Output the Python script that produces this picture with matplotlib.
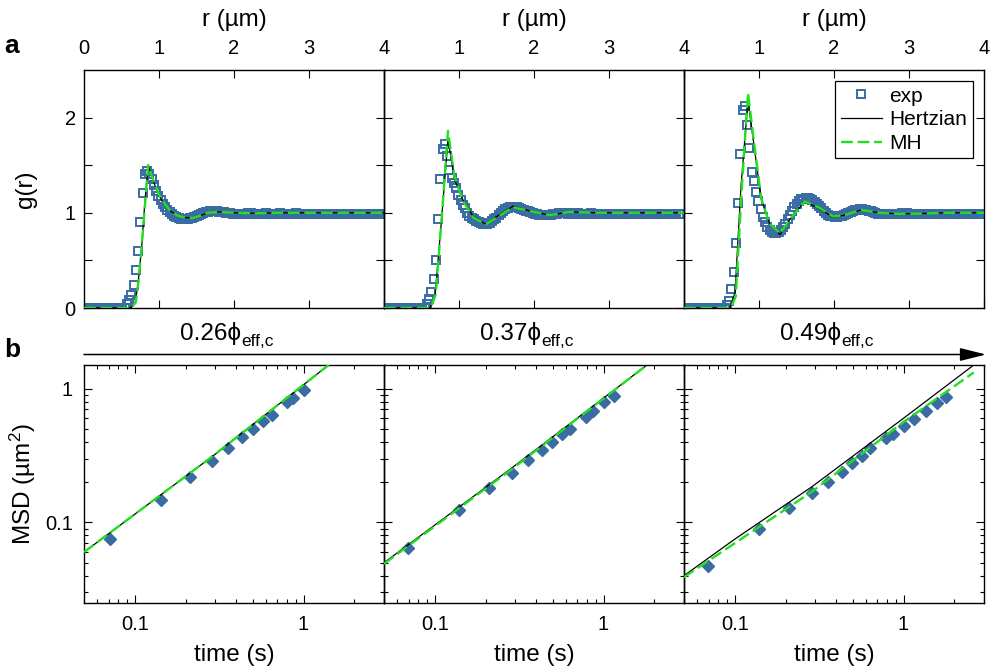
import numpy as np
import matplotlib
matplotlib.use("Agg")
import matplotlib.pyplot as plt
from matplotlib.ticker import NullFormatter, LogLocator
from matplotlib.patches import FancyArrowPatch

plt.rcParams['font.family'] = ['Liberation Sans', 'DejaVu Sans']
plt.rcParams['mathtext.fontset'] = 'custom'
plt.rcParams['mathtext.rm'] = 'Liberation Sans'
plt.rcParams['mathtext.it'] = 'Liberation Sans:italic'

# ---------------- data ----------------
phi_labels = ['0.26', '0.37', '0.49']

# g(r) experiment, bins of 0.03 um starting at r = 0
dr = 0.03
g_exp_1 = [
    0, 0, 0, 0, 0, 0, 0, 0, 0, 0,
    0, 0, 0, 0, 0, 0, 0, 0, 0, 0.04,
    0.08, 0.14, 0.24, 0.40, 0.60, 0.90, 1.21, 1.41, 1.44, 1.41,
    1.35, 1.29, 1.23, 1.18, 1.13, 1.09, 1.06, 1.03, 1.01, 0.99,
    0.97, 0.96, 0.95, 0.94, 0.94, 0.94, 0.94, 0.95, 0.95, 0.96,
    0.97, 0.98, 0.99, 1.00, 1.01, 1.01, 1.02, 1.02, 1.02, 1.02,
    1.01, 1.01, 1.01, 1.00, 1.00, 1.00, 0.99, 0.99, 0.99, 0.99,
    0.99, 0.99, 0.99, 1.00, 1.00, 0.99, 0.99, 0.99, 0.99, 0.99,
    0.99, 1.00, 0.99, 0.99, 0.99, 0.99, 0.99, 1.00, 0.99, 0.99,
    0.99, 0.99, 0.99, 0.99, 1.00, 0.99, 0.99, 0.99, 0.99, 0.99,
    0.99, 0.99, 0.99, 0.99, 0.99, 0.99, 0.99, 0.99, 0.99, 0.99,
    0.99, 0.99, 0.99, 0.99, 0.99, 0.99, 0.99, 0.99, 0.99, 0.99,
    0.99, 0.99, 0.99, 0.99, 0.99, 0.99, 0.99, 0.99, 0.99, 0.99,
    0.99, 0.99, 0.99, 0.99,
]
g_exp_2 = [
    0, 0, 0, 0, 0, 0, 0, 0, 0, 0,
    0, 0, 0, 0, 0, 0, 0, 0, 0, 0.04,
    0.09, 0.17, 0.30, 0.50, 0.93, 1.36, 1.67, 1.72, 1.60, 1.45,
    1.37, 1.31, 1.26, 1.19, 1.13, 1.08, 1.05, 1.00, 0.97, 0.95,
    0.93, 0.91, 0.90, 0.89, 0.88, 0.88, 0.88, 0.89, 0.91, 0.93,
    0.95, 0.98, 1.00, 1.02, 1.04, 1.05, 1.06, 1.06, 1.06, 1.06,
    1.05, 1.04, 1.03, 1.02, 1.02, 1.01, 1.00, 0.99, 0.99, 0.98,
    0.98, 0.98, 0.98, 0.98, 0.98, 0.99, 0.99, 0.99, 1.00, 1.00,
    1.00, 1.00, 0.99, 0.99, 0.99, 1.00, 1.00, 0.99, 0.99, 0.99,
    0.99, 0.99, 1.00, 0.99, 0.99, 0.99, 0.99, 0.99, 0.99, 0.99,
    0.99, 0.99, 0.99, 0.99, 0.99, 0.99, 0.99, 0.99, 0.99, 0.99,
    0.99, 0.99, 0.99, 0.99, 0.99, 0.99, 0.99, 0.99, 0.99, 0.99,
    0.99, 0.99, 0.99, 0.99, 0.99, 0.99, 0.99, 0.99, 0.99, 0.99,
    0.99, 0.99, 0.99, 0.99,
]
g_exp_3 = [
    0, 0, 0, 0, 0, 0, 0, 0, 0, 0,
    0, 0, 0, 0, 0, 0, 0, 0, 0, 0.03,
    0.07, 0.20, 0.38, 0.68, 1.10, 1.62, 2.08, 2.12, 1.92, 1.68,
    1.43, 1.33, 1.22, 1.12, 1.04, 0.96, 0.90, 0.85, 0.82, 0.80,
    0.79, 0.79, 0.80, 0.82, 0.85, 0.88, 0.93, 0.98, 1.02, 1.06,
    1.09, 1.12, 1.14, 1.15, 1.16, 1.16, 1.15, 1.13, 1.11, 1.09,
    1.07, 1.05, 1.02, 1.00, 0.98, 0.97, 0.965, 0.96, 0.96, 0.965,
    0.97, 0.98, 0.99, 1.00, 1.01, 1.02, 1.03, 1.03, 1.035, 1.035,
    1.03, 1.03, 1.02, 1.02, 1.01, 1.00, 0.99, 0.99, 0.985, 0.985,
    0.985, 0.985, 0.99, 0.99, 0.99, 0.99, 0.99, 1.00, 1.00, 1.00,
    0.99, 0.99, 0.99, 0.99, 0.99, 0.99, 0.99, 0.99, 0.99, 0.99,
    0.99, 0.99, 0.99, 0.99, 0.99, 0.99, 0.99, 0.99, 0.99, 0.99,
    0.99, 0.99, 0.99, 0.99, 0.99, 0.99, 0.99, 0.99, 0.99, 0.99,
    0.99, 0.99, 0.99, 0.99,
]

# g(r) fits
r_hz_1 = [0, 0.62, 0.68, 0.72, 0.77, 0.81, 0.855, 0.92, 1.0, 1.06, 1.15, 1.25,
          1.35, 1.45, 1.55, 1.65, 1.8, 2.0, 2.3, 2.6, 3.0, 4.0]
g_hz_1 = [0, 0, 0.05, 0.25, 0.65, 1.10, 1.50, 1.34, 1.18, 1.10, 1.02, 0.97,
          0.95, 0.945, 0.97, 1.0, 1.01, 1.0, 0.995, 1.0, 1.0, 1.0]
r_mh_1 = [0, 0.63, 0.69, 0.73, 0.78, 0.82, 0.855, 0.92, 1.0, 1.07, 1.15, 1.25,
          1.35, 1.45, 1.55, 1.65, 1.8, 2.0, 2.3, 2.6, 3.0, 4.0]
g_mh_1 = [0, 0, 0.06, 0.30, 0.75, 1.15, 1.50, 1.35, 1.19, 1.10, 1.02, 0.97,
          0.95, 0.945, 0.97, 1.0, 1.01, 1.0, 0.995, 1.0, 1.0, 1.0]

r_hz_2 = [0, 0.61, 0.68, 0.76, 0.853, 0.94, 1.05, 1.19, 1.36, 1.50, 1.72,
          1.94, 2.21, 2.48, 2.83, 3.2, 4.0]
g_hz_2 = [0, 0, 0.12, 0.86, 1.77, 1.35, 1.14, 0.96, 0.88, 0.96, 1.07,
          1.02, 0.975, 1.01, 1.0, 1.0, 1.0]
r_mh_2 = [0, 0.62, 0.69, 0.77, 0.853, 0.94, 1.05, 1.19, 1.36, 1.50, 1.72,
          1.94, 2.21, 2.48, 2.83, 3.2, 4.0]
g_mh_2 = [0, 0, 0.14, 0.95, 1.86, 1.38, 1.13, 0.95, 0.88, 0.95, 1.06,
          1.02, 0.975, 1.01, 1.0, 1.0, 1.0]

r_hz_3 = [0, 0.61, 0.68, 0.76, 0.853, 0.94, 1.03, 1.14, 1.28, 1.41, 1.61,
          1.81, 1.99, 2.16, 2.36, 2.61, 2.83, 3.05, 3.5, 4.0]
g_hz_3 = [0, 0, 0.16, 1.28, 2.18, 1.67, 1.14, 0.89, 0.77, 0.93, 1.12,
          1.04, 0.95, 0.98, 1.03, 1.0, 0.99, 0.99, 1.0, 1.0]
r_mh_3 = [0, 0.62, 0.69, 0.77, 0.853, 0.94, 1.03, 1.14, 1.28, 1.41, 1.61,
          1.81, 1.99, 2.16, 2.36, 2.61, 2.83, 3.05, 3.5, 4.0]
g_mh_3 = [0, 0, 0.12, 1.25, 2.26, 1.70, 1.15, 0.89, 0.78, 0.93, 1.12,
          1.05, 0.96, 0.98, 1.03, 1.0, 0.99, 0.99, 1.0, 1.0]

# MSD experiment
t_exp_1 = [0.071, 0.143, 0.212, 0.287, 0.357, 0.434, 0.504, 0.578, 0.654, 0.794, 0.87, 1.0]
msd_exp_1 = [0.075, 0.146, 0.219, 0.289, 0.357, 0.431, 0.503, 0.573, 0.639, 0.793, 0.853, 0.98]
t_exp_2 = [0.069, 0.14, 0.211, 0.285, 0.359, 0.43, 0.497, 0.568, 0.637, 0.783, 0.866, 1.01, 1.16]
msd_exp_2 = [0.0645, 0.123, 0.182, 0.236, 0.293, 0.347, 0.40, 0.454, 0.502, 0.613, 0.679, 0.792, 0.887]
t_exp_3 = [0.069, 0.14, 0.211, 0.285, 0.355, 0.43, 0.497, 0.568, 0.637, 0.79, 0.866,
           1.01, 1.16, 1.36, 1.58, 1.79]
msd_exp_3 = [0.0474, 0.0887, 0.1286, 0.166, 0.202, 0.24, 0.277, 0.313, 0.357, 0.424, 0.454,
             0.523, 0.589, 0.679, 0.778, 0.863]

# MSD fits
t_hz_fit_1 = [0.05, 0.287, 1.41]
msd_hz_fit_1 = [0.06, 0.31, 1.5]
t_mh_fit_1 = [0.05, 0.287, 1.41]
msd_mh_fit_1 = [0.06, 0.31, 1.5]
t_hz_fit_2 = [0.05, 0.28, 1.81]
msd_hz_fit_2 = [0.05, 0.25, 1.5]
t_mh_fit_2 = [0.05, 0.28, 1.81]
msd_mh_fit_2 = [0.049, 0.245, 1.5]
t_hz_fit_3 = [0.05, 0.1, 0.287, 1.0, 2.61]
msd_hz_fit_3 = [0.040, 0.075, 0.185, 0.60, 1.5]
t_mh_fit_3 = [0.05, 0.287, 1.0, 2.61]
msd_mh_fit_3 = [0.039, 0.17, 0.562, 1.32]

g_exp = [g_exp_1, g_exp_2, g_exp_3]
r_hz = [r_hz_1, r_hz_2, r_hz_3]
g_hz = [g_hz_1, g_hz_2, g_hz_3]
r_mh = [r_mh_1, r_mh_2, r_mh_3]
g_mh = [g_mh_1, g_mh_2, g_mh_3]
t_exp = [t_exp_1, t_exp_2, t_exp_3]
msd_exp = [msd_exp_1, msd_exp_2, msd_exp_3]
t_hz_fit = [t_hz_fit_1, t_hz_fit_2, t_hz_fit_3]
msd_hz_fit = [msd_hz_fit_1, msd_hz_fit_2, msd_hz_fit_3]
t_mh_fit = [t_mh_fit_1, t_mh_fit_2, t_mh_fit_3]
msd_mh_fit = [msd_mh_fit_1, msd_mh_fit_2, msd_mh_fit_3]

blue = '#3a6ba3'
green = '#22e01e'
label_size = 17.5
tick_size = 14.5

# ---------------- figure ----------------
W, H = 1000, 667
fig = plt.figure(figsize=(10, 6.67), dpi=100)


def box(x0, y0, x1, y1):
    return [x0 / W, 1 - y1 / H, (x1 - x0) / W, (y1 - y0) / H]


top_axes = [fig.add_axes(box(84 + 300 * k, 70, 384 + 300 * k, 308)) for k in range(3)]
bot_axes = [fig.add_axes(box(84 + 300 * k, 365, 384 + 300 * k, 603)) for k in range(3)]

for k, ax in enumerate(top_axes):
    ax.patch.set_alpha(0)
    r = np.round(np.arange(len(g_exp[k])) * dr, 2)
    ax.plot(r, g_exp[k], ls='none', marker='s', ms=5.2, mfc='none', mec=blue,
            mew=1.4, label='exp', zorder=2)
    ax.plot(r_hz[k], g_hz[k], color='k', lw=0.9, label='Hertzian', zorder=3)
    ax.plot(r_mh[k], g_mh[k], color=green, lw=1.7, dashes=(5, 2), label='MH', zorder=4)
    ax.set_xlim(0, 4)
    ax.set_ylim(0, 2.5)
    ax.xaxis.set_label_position('top')
    ax.set_xlabel('r (µm)', fontsize=label_size, labelpad=9)
    ax.set_xticks([0, 1, 2, 3, 4])
    ax.set_xticklabels(['0', '1', '2', '3', '4'] if k == 0 else ['', '1', '2', '3', '4'])
    ax.set_yticks([0, 0.5, 1, 1.5, 2])
    ax.set_yticklabels(['0', '', '1', '', '2'] if k == 0 else [''] * 5)
    ax.tick_params(axis='x', direction='in', length=5.8, width=0.8, top=True, bottom=True,
                   labeltop=True, labelbottom=False, labelsize=tick_size, pad=9)
    ax.tick_params(axis='y', direction='in', length=5.8, width=0.8, left=True, right=True,
                   labelsize=tick_size, pad=6)
    for s in ax.spines.values():
        s.set_linewidth(1.0)

top_axes[0].set_ylabel('g(r)', fontsize=label_size)
top_axes[0].yaxis.set_label_coords(-0.155, 0.5)

top_axes[2].legend(loc='upper right', fontsize=15, numpoints=1, frameon=True,
                   fancybox=False, edgecolor='k', framealpha=1, borderpad=0.25,
                   labelspacing=0.22, handlelength=2.0, handletextpad=0.35,
                   borderaxespad=0.55).get_frame().set_linewidth(0.9)

for k, ax in enumerate(bot_axes):
    ax.patch.set_alpha(0)
    ax.set_xscale('log')
    ax.set_yscale('log')
    ax.plot(t_exp[k], msd_exp[k], ls='none', marker='D', ms=6.3, color=blue, zorder=2)
    ax.plot(t_hz_fit[k], msd_hz_fit[k], color='k', lw=0.9, zorder=3)
    ax.plot(t_mh_fit[k], msd_mh_fit[k], color=green, lw=1.7, dashes=(5, 2), zorder=4)
    ax.set_xlim(0.05, 3)
    ax.set_ylim(0.025, 1.5)
    ax.set_xticks([0.1, 1])
    ax.set_xticklabels(['0.1', '1'])
    ax.set_yticks([0.1, 1])
    ax.set_yticklabels(['0.1', '1'] if k == 0 else ['', ''])
    ax.xaxis.set_minor_locator(LogLocator(base=10, subs=np.arange(2, 10)))
    ax.yaxis.set_minor_locator(LogLocator(base=10, subs=np.arange(2, 10)))
    ax.xaxis.set_minor_formatter(NullFormatter())
    ax.yaxis.set_minor_formatter(NullFormatter())
    ax.tick_params(which='major', direction='in', length=5.8, width=0.8, top=True,
                   right=True, labelsize=tick_size)
    ax.tick_params(which='minor', direction='in', length=3, width=0.8, top=True, right=True)
    ax.tick_params(axis='x', which='major', pad=9)
    ax.tick_params(axis='y', which='major', pad=8)
    ax.set_xlabel('time (s)', fontsize=label_size, labelpad=7)
    for s in ax.spines.values():
        s.set_linewidth(1.0)

bot_axes[0].set_ylabel('MSD (µm$^{2}$)', fontsize=label_size)
bot_axes[0].yaxis.set_label_coords(-0.155, 0.5)

# volume fraction labels with arrow
arrow = FancyArrowPatch((84 / W, 1 - 354.5 / H), (986 / W, 1 - 354.5 / H),
                        transform=fig.transFigure, arrowstyle='-|>,head_length=1.6,head_width=0.4',
                        mutation_scale=10, lw=1.1, color='k', shrinkA=0, shrinkB=0)
fig.add_artist(arrow)

for k, lab in enumerate(phi_labels):
    x0 = (180 + 300 * k) / W
    t = fig.text(x0, 1 - 340 / H, lab + '\u03d5', fontsize=17.5, ha='left', va='baseline')
    top_axes[k].annotate('eff,c', xy=(1.0, 1 - 346 / H), xycoords=(t, 'figure fraction'),
                         ha='left', va='baseline', fontsize=12.5, annotation_clip=False)

fig.text(12 / W, 1 - 46 / H, 'a', fontsize=19, fontweight='bold', ha='center', va='center')
fig.text(12 / W, 1 - 350 / H, 'b', fontsize=19, fontweight='bold', ha='center', va='center')

fig.savefig('out.png', dpi=100)
